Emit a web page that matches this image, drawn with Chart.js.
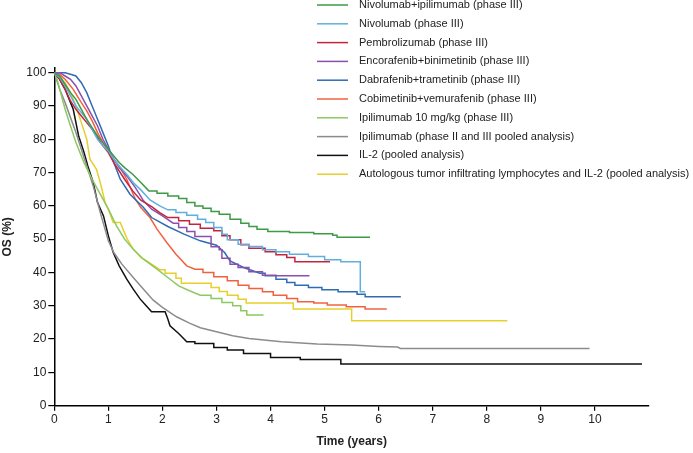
<!DOCTYPE html>
<html>
<head>
<meta charset="utf-8">
<script src="https://cdn.jsdelivr.net/npm/chart.js@4.4.1/dist/chart.umd.min.js"></script>
<style>
html,body{margin:0;padding:0;background:#fff;}
#wrap{width:693px;height:453px;position:relative;}
</style>
</head>
<body>
<div id="wrap"><canvas id="c" width="693" height="453"></canvas></div>
<script>
// ---- Data: [time (years), OS (%)] ----
const nivoIpi = [[0,100],[0.1,99],[0.2,96.5],[0.3,94],[0.4,92],[0.5,89],[0.6,86],[0.7,83.5],[0.8,81],[0.9,79],[1.0,77],[1.1,75],[1.2,73],[1.3,71.5],[1.45,69.5],[1.6,67],[1.75,64.5],[1.9,64.5],[1.9,63.8],[2.1,63.8],[2.1,63],[2.3,63],[2.3,62.2],[2.45,62.2],[2.45,61],[2.6,61],[2.6,60],[2.75,60],[2.75,59.3],[2.9,59.3],[2.9,58.3],[3.05,58.3],[3.05,57.5],[3.25,57.5],[3.25,56],[3.45,56],[3.45,54.8],[3.6,54.8],[3.6,53.8],[3.75,53.8],[3.75,53],[3.95,53],[3.95,52.3],[4.35,52.3],[4.35,52],[4.8,52],[4.8,51.6],[5.15,51.6],[5.15,51.2],[5.23,51.2],[5.23,50.6],[5.84,50.6]];
const nivo = [[0,100],[0.1,98.5],[0.2,96],[0.3,93],[0.4,90],[0.5,88],[0.6,86],[0.7,83],[0.8,80],[0.9,78],[1.0,76.5],[1.1,74],[1.2,72],[1.34,69.5],[1.46,67],[1.6,64.8],[1.77,61.8],[1.95,60],[2.1,58.8],[2.25,58.8],[2.25,58],[2.45,58],[2.45,57.2],[2.65,57.2],[2.65,56],[2.8,56],[2.8,55],[2.95,55],[2.95,53.5],[3.1,53.5],[3.1,51.5],[3.2,51.5],[3.2,49.8],[3.4,49.8],[3.4,48.5],[3.6,48.5],[3.6,47.8],[3.85,47.8],[3.85,46.8],[4.1,46.8],[4.1,46.2],[4.35,46.2],[4.35,45.5],[4.7,45.5],[4.7,44.8],[5.0,44.8],[5.0,43.8],[5.3,43.8],[5.3,43.2],[5.66,43.2],[5.66,34.2],[5.75,34.2]];
const pembro = [[0,100],[0.1,98],[0.2,95],[0.3,91.5],[0.4,89],[0.5,87],[0.6,85],[0.7,83],[0.8,80.5],[0.9,78],[1.0,76],[1.1,73],[1.3,68],[1.45,64.5],[1.6,61.7],[1.8,59.8],[1.95,58],[2.1,56.5],[2.3,56.5],[2.3,55.5],[2.5,55.5],[2.5,54.5],[2.7,54.5],[2.7,53.3],[2.95,53.3],[2.95,52.5],[3.1,52.5],[3.1,51],[3.25,51],[3.25,49.8],[3.45,49.8],[3.45,48.3],[3.6,48.3],[3.6,47.3],[3.9,47.3],[3.9,46.2],[4.1,46.2],[4.1,45.3],[4.3,45.3],[4.3,44.5],[4.45,44.5],[4.45,43.2],[5.1,43.2]];
const encoBini = [[0,100],[0.1,100],[0.2,99],[0.3,98],[0.4,96],[0.5,93],[0.6,90],[0.7,87],[0.8,84],[0.9,80],[1.0,77],[1.1,74],[1.2,71.5],[1.34,69],[1.5,65.5],[1.65,61.5],[1.8,59],[2.0,57],[2.2,54.8],[2.3,54.8],[2.3,53.5],[2.45,53.5],[2.45,52.3],[2.6,52.3],[2.6,50.8],[2.9,50.8],[2.9,47.7],[3.05,47.7],[3.05,46.8],[3.1,46.8],[3.1,44.3],[3.25,44.3],[3.25,42.5],[3.4,42.5],[3.4,41.5],[3.6,41.5],[3.6,40.2],[3.85,40.2],[3.85,39.2],[4.1,39.2],[4.1,39],[4.72,39]];
const dabraTram = [[0,100],[0.2,100],[0.3,99.5],[0.4,99],[0.5,97],[0.6,94],[0.7,90],[0.8,86],[0.9,82],[1.0,78],[1.1,73],[1.22,68],[1.4,63.5],[1.65,59.5],[1.8,56.5],[2.1,53.8],[2.4,51.5],[2.7,49.5],[3.0,48.2],[3.15,46],[3.25,43.5],[3.5,41.5],[3.8,39.8],[3.9,39.8],[3.9,39],[4.1,39],[4.1,38],[4.3,38],[4.3,37],[4.45,37],[4.45,36.2],[4.7,36.2],[4.7,35.5],[4.95,35.5],[4.95,34.8],[5.25,34.8],[5.25,34.2],[5.6,34.2],[5.6,33.5],[5.75,33.5],[5.75,32.7],[6.41,32.7]];
const cobiVemu = [[0,100],[0.1,99.5],[0.2,98],[0.35,95],[0.5,91],[0.6,88.5],[0.7,85.5],[0.8,82],[0.9,79],[1.0,76.5],[1.1,74],[1.2,72],[1.34,68],[1.5,62],[1.6,59.5],[1.77,56.5],[1.9,53],[2.08,49],[2.25,45.5],[2.45,42],[2.6,41],[2.75,41],[2.75,40],[2.95,40],[2.95,38.7],[3.2,38.7],[3.2,37.5],[3.4,37.5],[3.4,36.2],[3.6,36.2],[3.6,35.2],[3.85,35.2],[3.85,34.2],[4.05,34.2],[4.05,33.2],[4.3,33.2],[4.3,32.2],[4.5,32.2],[4.5,31.2],[4.8,31.2],[4.8,30.8],[5.05,30.8],[5.05,30.2],[5.4,30.2],[5.4,29.7],[5.75,29.7],[5.75,29],[6.15,29]];
const ipi10 = [[0,100],[0.05,98],[0.1,95],[0.2,89],[0.3,84],[0.4,79],[0.55,73],[0.7,68],[0.85,63.5],[1.0,59],[1.15,54],[1.3,50],[1.46,47],[1.65,44],[1.9,41],[2.1,38.5],[2.3,36],[2.5,34.5],[2.7,33.2],[2.9,33.2],[2.9,32.2],[3.1,32.2],[3.1,31],[3.3,31],[3.3,30],[3.45,30],[3.45,28.5],[3.56,28.5],[3.56,27.2],[3.87,27.2]];
const ipiPooled = [[0,100],[0.05,97.5],[0.1,95],[0.2,91],[0.3,86.5],[0.4,82],[0.5,77],[0.6,72],[0.72,66],[0.85,58],[1.0,49.5],[1.1,46],[1.25,42.5],[1.46,38.5],[1.65,35],[1.83,31.7],[2.0,29.5],[2.26,26.7],[2.5,24.8],[2.7,23.4],[3.0,22.2],[3.3,21],[3.6,20.2],[4.2,19.2],[4.86,18.5],[5.5,18.2],[6.0,17.8],[6.35,17.6],[6.4,17.2],[9.9,17.2]];
const il2 = [[0,100],[0.1,98],[0.2,95],[0.3,91],[0.35,89],[0.45,81],[0.55,76],[0.62,72],[0.72,67],[0.8,61],[0.91,57],[1.0,51],[1.09,46],[1.2,42],[1.34,38],[1.46,35],[1.59,32],[1.7,30],[1.8,28.2],[2.05,28.2],[2.1,26],[2.14,24],[2.3,21.7],[2.45,19.2],[2.6,19.2],[2.6,18.7],[2.95,18.7],[2.95,17.5],[3.2,17.5],[3.2,16.7],[3.5,16.7],[3.5,15.7],[4.0,15.7],[4.0,14.5],[4.55,14.5],[4.55,13.9],[5.3,13.9],[5.3,12.5],[10.87,12.5]];
const til = [[0,100],[0.1,99],[0.2,97],[0.3,94],[0.4,90],[0.5,85],[0.6,80],[0.66,74],[0.78,71],[0.85,67],[0.94,61],[1.0,59],[1.09,55],[1.22,55],[1.35,50],[1.46,47],[1.6,44.5],[1.75,43],[1.96,40.8],[2.05,40.8],[2.05,39.8],[2.25,39.8],[2.25,38.3],[2.35,38.3],[2.35,36.8],[2.9,36.8],[2.9,35.5],[3.05,35.5],[3.05,34.3],[3.2,34.3],[3.2,33.2],[3.4,33.2],[3.4,32],[3.55,32],[3.55,30.8],[4.42,30.8],[4.42,29],[5.5,29],[5.5,25.5],[8.38,25.5]];

const seriesLabels = [
  'Nivolumab+ipilimumab (phase III)',
  'Nivolumab (phase III)',
  'Pembrolizumab (phase III)',
  'Encorafenib+binimetinib (phase III)',
  'Dabrafenib+trametinib (phase III)',
  'Cobimetinib+vemurafenib (phase III)',
  'Ipilimumab 10 mg/kg (phase III)',
  'Ipilimumab (phase II and III pooled analysis)',
  'IL-2 (pooled analysis)',
  'Autologous tumor infiltrating lymphocytes and IL-2 (pooled analysis)'
];
const seriesData = [nivoIpi, nivo, pembro, encoBini, dabraTram, cobiVemu, ipi10, ipiPooled, il2, til];
const xTickValues = [0,1,2,3,4,5,6,7,8,9,10];
const yTickValues = [0,10,20,30,40,50,60,70,80,90,100];

// ---- Styles ----
const colors = ['#3d9a45','#5fb0df','#c2263f','#8b4fae','#2f6cb3','#f2613f','#8cc963','#8c8c8c','#111111','#e7cf2c'];

const FONT = "'Liberation Sans', Arial, Helvetica, sans-serif";
Chart.defaults.font.family = FONT;
Chart.defaults.color = '#222';

const legendPlugin = {
  id: 'kmLegend',
  afterDraw(chart) {
    const ctx = chart.ctx;
    ctx.save();
    ctx.font = '11px ' + FONT;
    ctx.textBaseline = 'middle';
    ctx.textAlign = 'left';
    seriesLabels.forEach((lab, i) => {
      const y = 5 + i * 18.8;
      ctx.strokeStyle = colors[i];
      ctx.lineWidth = 1.5;
      ctx.beginPath();
      ctx.moveTo(317, y);
      ctx.lineTo(348, y);
      ctx.stroke();
      ctx.fillStyle = '#222';
      ctx.fillText(lab, 359, y);
    });
    ctx.restore();
  }
};

new Chart(document.getElementById('c'), {
  type: 'line',
  data: {
    datasets: seriesData.map((d, i) => ({
      label: seriesLabels[i],
      data: d.map(p => ({x: p[0], y: p[1]})),
      borderColor: colors[i],
      backgroundColor: colors[i],
      borderWidth: 1.5,
      pointRadius: 0,
      tension: 0,
      fill: false
    }))
  },
  options: {
    responsive: false,
    animation: false,
    layout: {padding: {left: 0, right: 44, top: 68, bottom: 0}},
    plugins: {legend: {display: false}, tooltip: {enabled: false}},
    scales: {
      x: {
        type: 'linear', min: 0, max: 11,
        afterBuildTicks: s => { s.ticks = xTickValues.map(v => ({value: v})); },
        afterFit: s => { s.height = 47.3; },
        grid: {display: true, drawOnChartArea: false, drawTicks: true, tickLength: 5, color: '#000', lineWidth: 1.2},
        border: {display: true, color: '#000', width: 1.5},
        ticks: {font: {size: 12}, color: '#222', padding: 2, maxRotation: 0, autoSkip: false},
        title: {display: true, text: 'Time (years)', font: {size: 12, weight: 'bold'}, color: '#222', padding: {top: 0, bottom: 4}}
      },
      y: {
        type: 'linear', min: 0, max: 101.4,
        afterBuildTicks: s => { s.ticks = yTickValues.map(v => ({value: v})); },
        afterFit: s => { s.width = 54.3; },
        grid: {display: true, drawOnChartArea: false, drawTicks: true, tickLength: 6, color: '#000', lineWidth: 1.2},
        border: {display: true, color: '#000', width: 1.5},
        ticks: {font: {size: 12}, color: '#222', padding: 2, autoSkip: false},
        title: {display: true, text: 'OS (%)', font: {size: 12, weight: 'bold'}, color: '#222', padding: {top: 0, bottom: 0}}
      }
    }
  },
  plugins: [legendPlugin]
});
</script>
</body>
</html>
